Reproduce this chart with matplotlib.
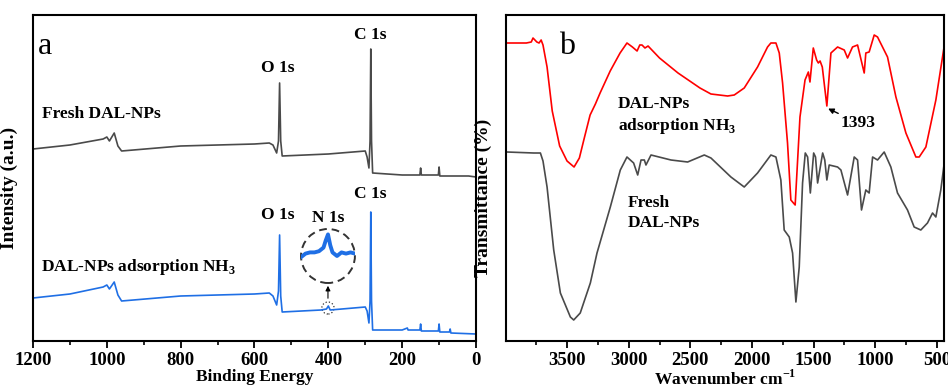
import matplotlib
matplotlib.use("Agg")
import matplotlib.pyplot as plt
from matplotlib.patches import Ellipse
from matplotlib.ticker import MultipleLocator

plt.rcParams["font.family"] = ["Liberation Serif", "DejaVu Serif"]
plt.rcParams["font.weight"] = "bold"
plt.rcParams["mathtext.fontset"] = "custom"
plt.rcParams["mathtext.rm"] = "Liberation Serif:bold"
plt.rcParams["axes.unicode_minus"] = False

# XPS survey (a): binding energy (eV) and intensity (a.u.)
xps_fresh_e = [1200, 1100, 1010, 1000, 993, 980, 970, 960, 800, 700, 600, 560, 550, 540,
               535, 532, 529, 525, 400, 300, 295, 290, 287, 285, 283, 280, 200, 152, 150,
               148, 102, 100, 98, 20, 0]
xps_fresh_i = [192, 196, 202, 204, 200, 208, 195, 190, 195, 196, 197, 198, 196, 188,
               200, 258, 200, 185, 187, 190, 184, 173, 200, 292, 200, 168, 166, 166, 173,
               166, 166, 174, 165, 165, 164]

xps_nh3_e = [1200, 1100, 1010, 1000, 993, 980, 970, 960, 800, 600, 560, 550, 540, 535,
             532, 529, 525, 420, 405, 400, 395, 300, 295, 290, 287, 285, 283, 280, 200,
             186, 184, 152, 150, 148, 102, 100, 98, 72, 70, 68, 0]
xps_nh3_i = [43, 47, 54, 56, 52, 59, 46, 40, 45, 47, 48, 45, 36, 50,
             106, 45, 29, 31, 32, 35, 31, 34, 30, 18, 40, 129, 40, 11, 11,
             13, 11, 11, 17, 10, 10, 17, 9, 9, 12, 8, 7]

# N 1s detail shown in the dashed circle
n1s_e = [412, 410, 408, 406, 404, 402, 401, 400, 399, 398, 396, 394, 392, 390, 388]
n1s_i = [4, 7, 8, 8, 9, 12, 18, 23, 14, 8, 5, 8, 7, 8, 7]

# FTIR (b): wavenumber (cm-1) and transmittance (offset, a.u.)
ftir_nh3_w = [3989, 3830, 3790, 3776, 3745, 3727, 3710, 3695, 3662, 3620, 3560, 3500,
              3443, 3400, 3360, 3313, 3270, 3232, 3150, 3070, 3014, 2970, 2932, 2910,
              2892, 2868, 2843, 2750, 2600, 2422, 2333, 2198, 2144, 2063, 1955, 1874,
              1847, 1806, 1779, 1752, 1712, 1685, 1650, 1611, 1570, 1543, 1530, 1503,
              1476, 1462, 1448, 1430, 1393, 1360, 1306, 1252, 1225, 1185, 1144, 1090,
              1077, 1050, 1009, 982, 901, 833, 752, 671, 644, 590, 509, 440]
ftir_nh3_t = [298, 298, 299, 303, 299, 298, 301, 296, 274, 230, 195, 180,
              174, 183, 203, 226, 237, 248, 270, 288, 298, 294, 290, 296,
              296, 293, 295, 283, 268, 253, 247, 245, 246, 253, 274, 294,
              298, 298, 288, 258, 198, 141, 136, 224, 261, 269, 259, 293,
              281, 278, 280, 274, 235, 288, 294, 291, 283, 294, 296, 268,
              288, 289, 306, 304, 284, 244, 208, 184, 184, 194, 241, 296]

ftir_fresh_w = [3989, 3770, 3716, 3695, 3662, 3608, 3554, 3473, 3446, 3393, 3311, 3257,
                3149, 3068, 3014, 2960, 2927, 2900, 2873, 2860, 2819, 2657, 2522, 2387,
                2333, 2171, 2063, 1955, 1847, 1806, 1766, 1739, 1698, 1671, 1644, 1617,
                1590, 1568, 1549, 1527, 1500, 1485, 1468, 1427, 1410, 1393, 1374, 1306,
                1279, 1225, 1171, 1144, 1112, 1077, 1050, 1022, 982, 928, 874, 820, 739,
                685, 631, 577, 536, 509, 469, 441]
ftir_fresh_t = [189, 188, 188, 180, 154, 91, 48, 24, 21, 28, 58, 88,
                134, 171, 184, 178, 166, 181, 181, 176, 186, 181, 179, 186,
                183, 164, 154, 168, 186, 184, 161, 111, 104, 88, 39, 74,
                158, 188, 184, 148, 188, 184, 158, 188, 181, 161, 176, 174,
                171, 146, 184, 181, 131, 151, 148, 184, 181, 189, 174, 148, 131,
                114, 111, 118, 128, 124, 151, 178]

GRAY = "#4a4a4a"
BLUE = "#1f6fe5"
RED = "#ff0000"
FS = 12.5
TFS = 13.5

fig = plt.figure(figsize=(9.48, 3.89), dpi=100)
ax_a = fig.add_axes([33 / 948, 48 / 389, 443 / 948, 326 / 389])
ax_b = fig.add_axes([506 / 948, 48 / 389, 438 / 948, 326 / 389])

for ax in (ax_a, ax_b):
    for sp in ax.spines.values():
        sp.set_linewidth(1.5)
    ax.set_yticks([])
    ax.set_ylim(0, 326)
    ax.tick_params(axis="x", which="major", direction="out", length=5, width=1.3,
                   labelsize=TFS, pad=3)
    ax.tick_params(axis="x", which="minor", direction="out", length=3, width=1.2)


def be(px):
    # pixel column in panel a -> binding energy
    return 1200 - (px - 33) / 0.3692


def wn(px):
    # pixel column in panel b -> wavenumber
    return 3500 - (px - 567) / 0.12333


# panel a
ax_a.plot(xps_fresh_e, xps_fresh_i, color=GRAY, lw=1.2)
ax_a.plot(xps_nh3_e, xps_nh3_i, color=BLUE, lw=1.2)
ax_a.set_xlim(1200, 0)
ax_a.xaxis.set_major_locator(MultipleLocator(200))
ax_a.xaxis.set_minor_locator(MultipleLocator(100))
ax_a.set_xlabel("Binding Energy", fontsize=FS, fontweight="bold", labelpad=0)
ax_a.set_ylabel("Intensity (a.u.)", fontsize=14, fontweight="bold")
ax_a.yaxis.set_label_coords(-0.033, 0.47)

ax_a.text(be(45), 341 - 47, "a", fontsize=23, fontweight="normal", ha="center", va="center")
ax_a.text(be(278), 341 - 68, "O 1s", fontsize=FS, ha="center", va="center")
ax_a.text(be(370), 341 - 35, "C 1s", fontsize=FS, ha="center", va="center")
ax_a.text(be(42), 341 - 114, "Fresh DAL-NPs", fontsize=FS, ha="left", va="center")
ax_a.text(be(278), 341 - 215, "O 1s", fontsize=FS, ha="center", va="center")
ax_a.text(be(370), 341 - 194, "C 1s", fontsize=FS, ha="center", va="center")
ax_a.text(be(328), 341 - 218, "N 1s", fontsize=FS, ha="center", va="center")
ax_a.text(be(41), 341 - 267, "DAL-NPs adsorption NH$_{\\mathregular{3}}$", fontsize=FS,
          ha="left", va="center")

# dashed circle with the N 1s detail, dotted marker and arrow
ax_a.add_patch(Ellipse((401, 85), 146, 54, fill=False, ls=(0, (4, 2.5)), lw=1.4,
                       color="#333333"))
ax_a.add_patch(Ellipse((401, 33), 33, 12, fill=False, ls=":", lw=0.9, color="#333333"))
ax_a.annotate("", xy=(401, 58), xytext=(401, 40),
              arrowprops=dict(arrowstyle="-|>", color="black", lw=0.8,
                              mutation_scale=7))
ax_in = fig.add_axes([301 / 948, (389 - 262) / 389, 54 / 948, 30 / 389])
ax_in.plot(n1s_e, n1s_i, color=BLUE, lw=2.8)
ax_in.set_xlim(412, 388)
ax_in.set_ylim(0, 25)
ax_in.axis("off")

# panel b
ax_b.plot(ftir_nh3_w, ftir_nh3_t, color=RED, lw=1.2)
ax_b.plot(ftir_fresh_w, ftir_fresh_t, color=GRAY, lw=1.2)
ax_b.set_xlim(3995, 443)
ax_b.xaxis.set_minor_locator(MultipleLocator(250))
ax_b.set_xticks([3500, 3000, 2500, 2000, 1500, 1000, 500])
ax_b.set_xlabel("Wavenumber cm$^{\\mathregular{-1}}$", fontsize=FS, fontweight="bold",
                labelpad=0)
ax_b.set_ylabel("Transmittance (%)", fontsize=14, fontweight="bold")
ax_b.yaxis.set_label_coords(-0.033, 0.44)

ax_b.text(wn(567), 341 - 47, "b", fontsize=23, fontweight="normal", ha="center", va="center")
ax_b.text(wn(618), 341 - 116, "DAL-NPs\nadsorption NH$_{\\mathregular{3}}$", fontsize=FS,
          ha="left", va="center", linespacing=1.3)
ax_b.text(wn(628), 341 - 213, "Fresh\nDAL-NPs", fontsize=FS, ha="left", va="center",
          linespacing=1.3)
ax_b.annotate("1393", xy=(1393, 233), xytext=(wn(841), 341 - 123), fontsize=FS,
              ha="left", va="center",
              arrowprops=dict(arrowstyle="-|>", color="black", lw=1.0,
                              mutation_scale=8, shrinkA=0, shrinkB=1))

fig.savefig("out.png", dpi=100)
